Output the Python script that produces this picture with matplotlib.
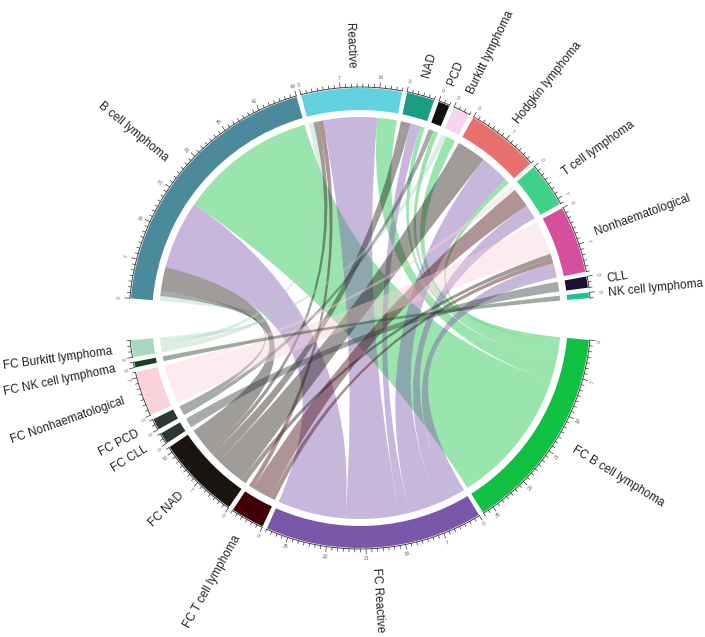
import numpy as np
import matplotlib.pyplot as plt
from matplotlib.path import Path
from matplotlib.patches import PathPatch, Wedge

plt.rcParams['font.family'] = ['Liberation Sans', 'DejaVu Sans']

# groups on the upper half (cytology) and lower half (flow cytometry)
sources = ["B cell lymphoma", "Reactive", "NAD", "PCD", "Burkitt lymphoma",
           "Hodgkin lymphoma", "T cell lymphoma", "Nonhaematological", "CLL",
           "NK cell lymphoma"]
src_colors = ["#4b8a9b", "#62d2e3", "#1b9c85", "#111111", "#f7d4f2",
              "#e8716f", "#3fd18c", "#d64e9e", "#200f35", "#1fbf98"]

targets = ["FC B cell lymphoma", "FC Reactive", "FC T cell lymphoma", "FC NAD",
           "FC CLL", "FC PCD", "FC Nonhaematological", "FC NK cell lymphoma",
           "FC Burkitt lymphoma"]
tgt_colors = ["#10c040", "#7b57aa", "#420006", "#1c1410", "#2e3535",
              "#2f3838", "#f9d2da", "#1c3d1f", "#a8d8bf"]

# links: source index -> target index, count
link_src = [0, 0, 0, 0, 0,  1, 1, 1, 1, 1,  2, 2, 2,  3, 3,  4, 4,
            5, 5, 5,  6, 6, 6,  7, 7, 7, 7,  8,  9]
link_tgt = [8, 5, 3, 1, 0,  8, 3, 2, 1, 0,  3, 1, 0,  5, 0,  8, 0,
            3, 1, 0,  6, 2, 1,  6, 3, 2, 1,  4,  7]
link_val = [1, 1, 5, 14, 28,  1, 1, 1, 11, 4,  2, 2, 1,  1, 1,  1, 2,
            6, 6, 1,  1, 4, 3,  7, 1, 1, 3,  2,  1]

cx, cy = 360, 319
r_out, r_in, r_chord, r_axis = 230, 208, 201, 231
deg_per = 1.41
gap = 1.2
start = 175.1

ns, nt = len(sources), len(targets)
src_tot = [sum(v for s, v in zip(link_src, link_val) if s == i) for i in range(ns)]
tgt_tot = [sum(v for t, v in zip(link_tgt, link_val) if t == j) for j in range(nt)]
total = sum(link_val)
big_gap = (360 - 2 * total * deg_per - (ns - 1 + nt - 1) * gap) / 2

groups = []
theta = start
for name, col, tot in zip(sources, src_colors, src_tot):
    groups.append((name, col, tot, theta))
    theta -= tot * deg_per + gap
theta = theta + gap - big_gap
for name, col, tot in zip(targets, tgt_colors, tgt_tot):
    groups.append((name, col, tot, theta))
    theta -= tot * deg_per + gap

# where each link sits on its source and target arc
src_pos, tgt_pos = {}, {}
for i in range(ns):
    th = groups[i][3]
    for j in reversed(range(nt)):
        for k in range(len(link_val)):
            if link_src[k] == i and link_tgt[k] == j:
                src_pos[k] = (th, th - link_val[k] * deg_per)
                th -= link_val[k] * deg_per
for j in range(nt):
    th = groups[ns + j][3]
    for i in reversed(range(ns)):
        for k in range(len(link_val)):
            if link_src[k] == i and link_tgt[k] == j:
                tgt_pos[k] = (th, th - link_val[k] * deg_per)
                th -= link_val[k] * deg_per


def arc(t1, t2, r, n=40):
    t = np.radians(np.linspace(t1, t2, n))
    return np.column_stack([cx + r * np.cos(t), cy + r * np.sin(t)])


def ribbon(a1, a2, b1, b2):
    A = arc(a1, a2, r_chord)
    B = arc(b1, b2, r_chord)
    verts = list(A) + [(cx, cy), B[0]] + list(B[1:]) + [(cx, cy), A[0], A[0]]
    codes = ([Path.MOVETO] + [Path.LINETO] * (len(A) - 1) + [Path.CURVE3] * 2
             + [Path.LINETO] * (len(B) - 1) + [Path.CURVE3] * 2 + [Path.CLOSEPOLY])
    return Path(verts, codes)


fig = plt.figure(figsize=(7.05, 6.37), dpi=100)
ax = fig.add_axes([0, 0, 1, 1])
ax.set_xlim(0, 705)
ax.set_ylim(0, 637)
ax.set_aspect('equal')
ax.axis('off')

for k in range(len(link_val)):
    a1, a2 = src_pos[k]
    b1, b2 = tgt_pos[k]
    ax.add_patch(PathPatch(ribbon(a1, a2, b1, b2), facecolor=tgt_colors[link_tgt[k]],
                           alpha=0.42, edgecolor='none', zorder=1))

for name, col, tot, th0 in groups:
    th1 = th0 - tot * deg_per
    ax.add_patch(Wedge((cx, cy), r_out, th1, th0, width=r_out - r_in,
                       facecolor=col, edgecolor='none', zorder=2))
    ln = arc(th0, th1, r_axis)
    ax.plot(ln[:, 0], ln[:, 1], color='#333333', lw=0.6, zorder=3)
    for u in range(0, int(tot) + 1):
        t = np.radians(th0 - u * deg_per)
        L = 5 if u % 7 == 0 else 3
        ax.plot([cx + r_axis * np.cos(t), cx + (r_axis + L) * np.cos(t)],
                [cy + r_axis * np.sin(t), cy + (r_axis + L) * np.sin(t)],
                color='#333333', lw=0.5, zorder=3)
        if u % 7 == 0:
            rot = np.degrees(t) - 90
            if rot < -90:
                rot += 180
            if rot > 90:
                rot -= 180
            ax.text(cx + (r_axis + 10) * np.cos(t), cy + (r_axis + 10) * np.sin(t),
                    str(u), fontsize=3.8, color='#666666', rotation=rot,
                    ha='center', va='center', rotation_mode='anchor')
    tm = (th0 + th1) / 2
    t = np.radians(tm)
    if np.cos(t) >= 0:
        rot, ha = tm, 'left'
    else:
        rot, ha = tm - 180, 'right'
    rot = (rot + 180) % 360 - 180
    ax.text(cx + 250 * np.cos(t), cy + 250 * np.sin(t), name, fontsize=8.5,
            color='#222222', rotation=rot, ha=ha, va='center', rotation_mode='anchor')

fig.savefig('out.png', dpi=100)
